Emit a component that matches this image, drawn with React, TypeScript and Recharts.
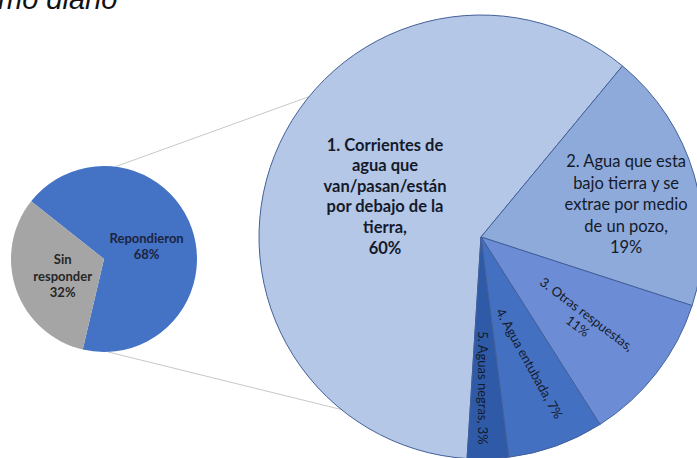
import { PieChart, Pie, Cell } from "recharts";

// overview pie (left)
const OVERVIEW_NAMES = ["Repondieron", "Sin responder"];
const OVERVIEW_VALUES = [68, 32];
const OVERVIEW_LABELS = [["Repondieron", "68%"], ["Sin", "responder", "32%"]];

// breakdown of "Repondieron" (right)
const DETAIL_NAMES = [
  "1. Corrientes de agua que van/pasan/están por debajo de la tierra",
  "2. Agua que esta bajo tierra y se extrae por medio de un pozo",
  "3. Otras respuestas",
  "4. Agua entubada",
  "5. Aguas negras",
];
const DETAIL_VALUES = [60, 19, 11, 7, 3];
const DETAIL_LABELS = [
  ["1. Corrientes de", "agua que", "van/pasan/están", "por debajo de la", "tierra,", "60%"],
  ["2. Agua que esta", "bajo tierra y se", "extrae por medio", "de un pozo,", "19%"],
  ["3. Otras respuestas,", "11%"],
  ["4. Agua entubada, 7%"],
  ["5. Aguas negras, 3%"],
];

const overviewData = OVERVIEW_NAMES.map((name, i) => ({ name, value: OVERVIEW_VALUES[i] }));
const detailData = DETAIL_NAMES.map((name, i) => ({ name, value: DETAIL_VALUES[i] }));

const OVERVIEW_COLORS = ["#4472c4", "#a5a5a5"];
const DETAIL_COLORS = ["#b4c7e7", "#8eaadb", "#6c8dd5", "#4470c2", "#2f5aa8"];

const W = 697;
const H = 458;
const FONT = "Lato, 'Noto Sans', sans-serif";
const RADIAN = Math.PI / 180;

// geometry of both pies
const SMALL = { cx: 104, cy: 259, r: 93, start: 141.6 };
const BIG = { cx: 481, cy: 237, r: 222, start: -93.6 };

const OVERVIEW_STYLE = [
  { r: 0.48, shift: -2, color: "#1b2440" },
  { r: 0.48, shift: 3, color: "#262626" },
];

const DETAIL_STYLE = [
  { r: 0.47, shift: -1.5, size: 16.5, weight: 700, lh: 20.6, rotate: 0 },
  { r: 0.67, shift: -3.5, size: 16.5, weight: 400, lh: 21.5, rotate: 0 },
  { r: 0.59, shift: -1.5, size: 13, weight: 400, lh: 15, rotate: 37 },
  { r: 0.61, shift: 1.3, size: 13, weight: 400, lh: 15, rotate: 61 },
  { r: 0.68, shift: -0.9, size: 13, weight: 400, lh: 15, rotate: 90 },
];

const polar = (cx: number, cy: number, r: number, deg: number) => ({
  x: cx + r * Math.cos(deg * RADIAN),
  y: cy - r * Math.sin(deg * RADIAN),
});

const renderOverviewLabel = (props: any) => {
  const { cx, cy, midAngle, outerRadius, index } = props;
  const st = OVERVIEW_STYLE[index];
  const p = polar(cx, cy, outerRadius * st.r, midAngle + st.shift);
  const lines = OVERVIEW_LABELS[index];
  const lh = 16.5;
  return (
    <text x={p.x} y={p.y} textAnchor="middle" fill={st.color} fontFamily={FONT} fontWeight={700} fontSize={13}>
      {lines.map((l, i) => (
        <tspan key={i} x={p.x} y={p.y + (i - (lines.length - 1) / 2) * lh} dominantBaseline="central">
          {l}
        </tspan>
      ))}
    </text>
  );
};

const renderDetailLabel = (props: any) => {
  const { cx, cy, midAngle, outerRadius, index } = props;
  const st = DETAIL_STYLE[index];
  const p = polar(cx, cy, outerRadius * st.r, midAngle + st.shift);
  const lines = DETAIL_LABELS[index];
  return (
    <g transform={`translate(${p.x},${p.y}) rotate(${st.rotate})`}>
      <text textAnchor="middle" fill="#141a2a" fontFamily={FONT} fontWeight={st.weight} fontSize={st.size}>
        {lines.map((l, i) => (
          <tspan key={i} x={0} y={(i - (lines.length - 1) / 2) * st.lh} dominantBaseline="central">
            {l}
          </tspan>
        ))}
      </text>
    </g>
  );
};

export default function App() {
  // connector lines between the two pies
  const topA = polar(SMALL.cx, SMALL.cy, SMALL.r, 83);
  const topB = polar(BIG.cx, BIG.cy, BIG.r, 140.8);
  const botA = polar(SMALL.cx, SMALL.cy, SMALL.r, -87.6);
  const botB = polar(BIG.cx, BIG.cy, BIG.r, -129);

  return (
    <div style={{ position: "fixed", left: 0, top: 0, width: W, height: H, background: "#fff", overflow: "hidden" }}>
      <svg width={W} height={H} style={{ position: "absolute", left: 0, top: 0 }}>
        <line x1={topA.x} y1={topA.y} x2={topB.x} y2={topB.y} stroke="#c8c8c8" strokeWidth={1} />
        <line x1={botA.x} y1={botA.y} x2={botB.x} y2={botB.y} stroke="#c8c8c8" strokeWidth={1} />
        <text x={-2} y={9} fontFamily="'Liberation Sans', Arial, sans-serif" fontStyle="italic" fontSize={29} fill="#111">
          mo diario
        </text>
      </svg>
      <div style={{ position: "absolute", left: 0, top: 0 }}>
        <PieChart width={W} height={H} margin={{ top: 0, right: 0, bottom: 0, left: 0 }}>
          <Pie
            data={overviewData}
            dataKey="value"
            nameKey="name"
            cx={SMALL.cx}
            cy={SMALL.cy}
            outerRadius={SMALL.r}
            startAngle={SMALL.start}
            endAngle={SMALL.start - 360}
            stroke="none"
            label={renderOverviewLabel}
            labelLine={false}
            isAnimationActive={false}
          >
            {overviewData.map((d, i) => (
              <Cell key={d.name} fill={OVERVIEW_COLORS[i]} />
            ))}
          </Pie>
          <Pie
            data={detailData}
            dataKey="value"
            nameKey="name"
            cx={BIG.cx}
            cy={BIG.cy}
            outerRadius={BIG.r}
            startAngle={BIG.start}
            endAngle={BIG.start - 360}
            stroke="#44609a"
            strokeWidth={1}
            label={renderDetailLabel}
            labelLine={false}
            isAnimationActive={false}
          >
            {detailData.map((d, i) => (
              <Cell key={d.name} fill={DETAIL_COLORS[i]} />
            ))}
          </Pie>
        </PieChart>
      </div>
    </div>
  );
}
